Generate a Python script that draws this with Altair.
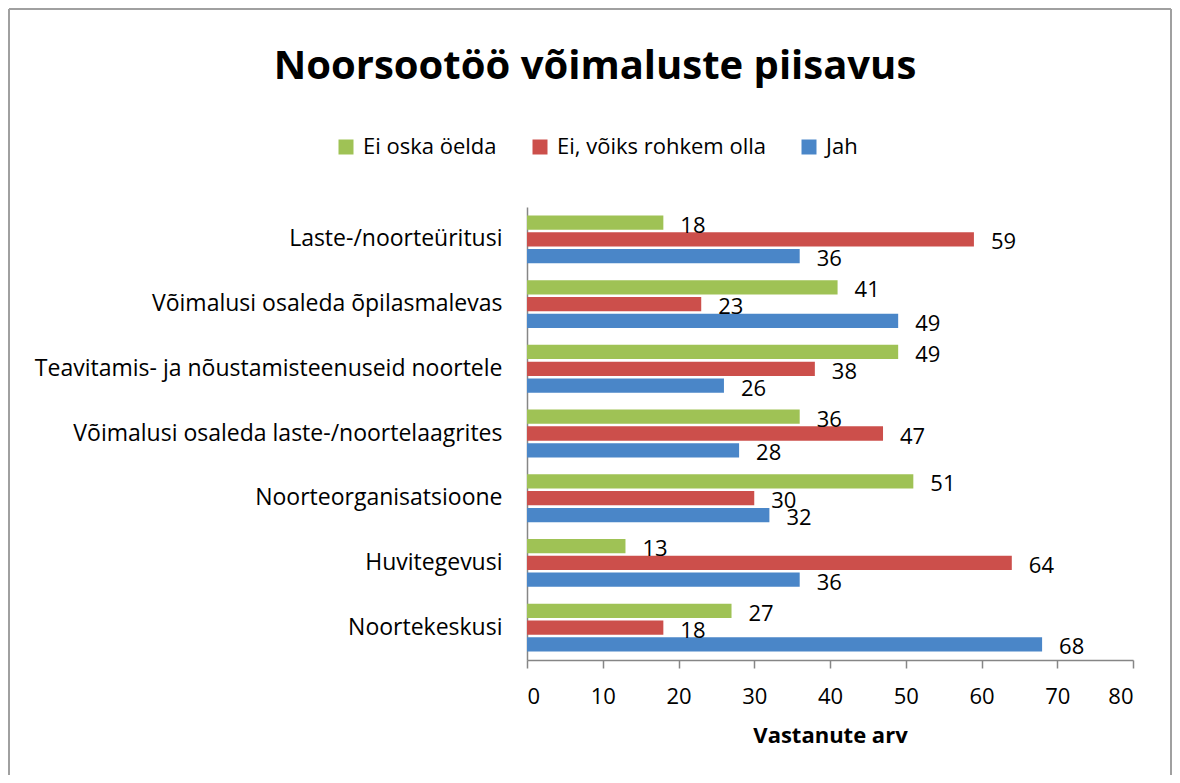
import altair as alt
import pandas as pd

categories = [
    "Laste-/noorteüritusi",
    "Võimalusi osaleda õpilasmalevas",
    "Teavitamis- ja nõustamisteenuseid noortele",
    "Võimalusi osaleda laste-/noortelaagrites",
    "Noorteorganisatsioone",
    "Huvitegevusi",
    "Noortekeskusi",
]
series = ["Ei oska öelda", "Ei, võiks rohkem olla", "Jah"]
colors = ["#9FC255", "#CC4F4B", "#4A86C8"]
ei_oska = [18, 41, 49, 36, 51, 13, 27]
ei_voiks = [59, 23, 38, 47, 30, 64, 18]
jah = [36, 49, 26, 28, 32, 36, 68]
x_ticks = [0, 10, 20, 30, 40, 50, 60, 70, 80]

rows = []
for s, vals in zip(series, [ei_oska, ei_voiks, jah]):
    for c, v in zip(categories, vals):
        rows.append({"kategooria": c, "vastus": s, "arv": v})
df = pd.DataFrame(rows)

FONT = "Open Sans"
W, H = 606, 453
PL, PT, PR, PB = 519, 199, 39, 115

base = alt.Chart(df).encode(
    y=alt.Y("kategooria:N", sort=categories,
            scale=alt.Scale(paddingInner=0.26, paddingOuter=0.13),
            axis=alt.Axis(title=None, ticks=False, labelFontSize=23, labelFont=FONT,
                          labelColor="#000000", labelPadding=25, labelLimit=0,
                          domainColor="#868686", domainWidth=1.5)),
    yOffset=alt.YOffset("vastus:N", sort=series,
                        scale=alt.Scale(paddingInner=0.15, paddingOuter=0)),
)

bars = base.mark_bar().encode(
    x=alt.X("arv:Q", scale=alt.Scale(domain=[0, 80], nice=False),
            axis=alt.Axis(values=x_ticks, grid=False, title="Vastanute arv",
                          titleFont=FONT, titleFontSize=22, titleFontWeight="bold",
                          titleColor="#000000", titlePadding=18,
                          labelFont=FONT, labelFontSize=22, labelColor="#000000",
                          labelPadding=18, tickSize=8, tickColor="#868686",
                          domainColor="#868686", domainWidth=1.5, tickWidth=1.5)),
    color=alt.Color("vastus:N", sort=series,
                    scale=alt.Scale(domain=series, range=colors),
                    legend=alt.Legend(title=None, orient="none", legendX=-192, legendY=-71,
                                      direction="horizontal", symbolType="square",
                                      symbolSize=225, symbolStrokeWidth=0,
                                      labelFont=FONT, labelFontSize=22, labelColor="#000000",
                                      labelLimit=0, columnPadding=32, labelOffset=6)),
)

labels = base.mark_text(align="left", baseline="middle", dx=17, dy=3,
                        font=FONT, fontSize=22, color="#000000").encode(
    x=alt.X("arv:Q"),
    text=alt.Text("arv:Q"),
)

frame_df = pd.DataFrame({"k": [0]})
frame_left = alt.Chart(frame_df).mark_rule(color="#A0A0A0", strokeWidth=2).encode(
    x=alt.value(-PL + 1), y=alt.value(-PT + 1), y2=alt.value(H + PB))
frame_top = alt.Chart(frame_df).mark_rule(color="#A0A0A0", strokeWidth=2).encode(
    x=alt.value(-PL + 1), x2=alt.value(W + PR - 1), y=alt.value(-PT + 1))
frame_right = alt.Chart(frame_df).mark_rule(color="#A0A0A0", strokeWidth=2).encode(
    x=alt.value(W + PR - 1), y=alt.value(-PT + 1), y2=alt.value(H + PB))

chart = alt.layer(bars, labels, frame_left, frame_top, frame_right).properties(
    width=W, height=H,
    title=alt.TitleParams("Noorsootöö võimaluste piisavus", font=FONT, fontSize=40,
                          fontWeight="bold", color="#000000", anchor="middle",
                          baseline="alphabetic",
                          frame="group", dx=-235, offset=-111),
    autosize=alt.AutoSizeParams(type="none"),
    padding={"left": PL, "top": PT, "right": PR, "bottom": PB},
    background="#FFFFFF",
).configure_view(stroke=None)

chart.save("out.html", embed_options={"renderer": "svg", "actions": False})
